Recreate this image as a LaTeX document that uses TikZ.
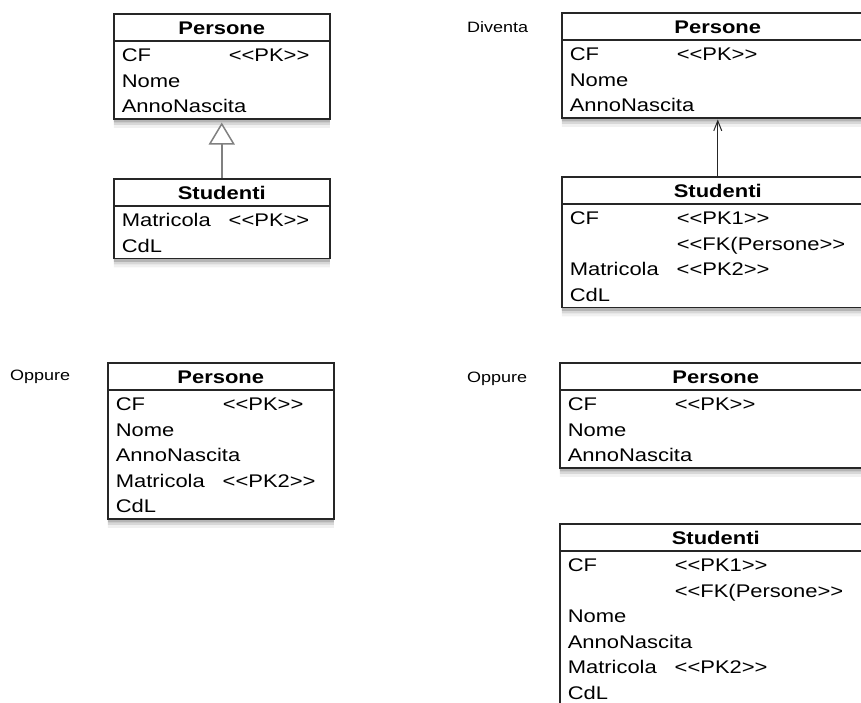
\documentclass[tikz,border=0pt]{standalone}
\usepackage{fontspec}
\setmainfont{Liberation Sans}[FakeStretch=1.2,Ligatures=TeXOff]
\usetikzlibrary{shapes.multipart}
\usetikzlibrary{shadows}
\usetikzlibrary{arrows.meta}

\newcommand\rowstrut{\rule[-5.5pt]{0pt}{25.5pt}}
\newcommand\ctitle[1]{\makebox[\hsize]{\bfseries #1\rowstrut}}
\newcommand\row[1]{#1\rowstrut}
\newcommand\attr[2]{\makebox[107pt][l]{#1}#2\rowstrut}

\begin{document}
\begin{tikzpicture}
[x=1pt,y=-1pt,%
  font=\fontsize{18.3}{25.5}\selectfont,%
  cls/.style={rectangle split,rectangle split parts=2,draw=black!85,%
    line width=1.5pt,fill=white,anchor=north west,inner xsep=8pt,inner ysep=0pt,%
    drop shadow={shadow xshift=0pt,shadow yshift=-9pt,opacity=.12},%
    drop shadow={shadow xshift=0pt,shadow yshift=-6pt,opacity=.22},%
    drop shadow={shadow xshift=0pt,shadow yshift=-3.5pt,opacity=.4}},%
  note/.style={anchor=west,inner sep=0pt,font=\fontsize{15}{18}\selectfont}]
\useasboundingbox (0,0) rectangle (861,702);
\clip (0,0) rectangle (861,702);

% in alto a sinistra
\node[cls,text width=200pt] (pers1) at (113,13)
  {\ctitle{Persone}\nodepart{two}\attr{CF}{<<PK>>}\\\row{Nome}\\\row{AnnoNascita}};
\node[cls,text width=200pt] (stud1) at (113,178)
  {\ctitle{Studenti}\nodepart{two}\attr{Matricola}{<<PK>>}\\\row{CdL}};
\draw[black!50,line width=1.5pt,shorten >=3pt,%
  -{Triangle[open,length=22pt,width=26pt,fill=white]}] (stud1.north) -- (pers1.south);

% in alto a destra
\node[note] (diventa) at (467,27) {Diventa};
\node[cls,text width=296pt] (pers2) at (561,12)
  {\ctitle{Persone}\nodepart{two}\attr{CF}{<<PK>>}\\\row{Nome}\\\row{AnnoNascita}};
\node[cls,text width=296pt] (stud2) at (561,176)
  {\ctitle{Studenti}\nodepart{two}\attr{CF}{<<PK1>>}\\\attr{}{<<FK(Persone>>}\\%
   \attr{Matricola}{<<PK2>>}\\\row{CdL}};
\draw[black!85,line width=1pt,shorten >=1pt,%
  -{Straight Barb[length=10pt,width=8pt]}] (stud2.north) -- (pers2.south);

% in basso a sinistra
\node[note] (oppure1) at (10,377) {Oppure};
\node[cls,text width=210pt] (pers3) at (107,362)
  {\ctitle{Persone}\nodepart{two}\attr{CF}{<<PK>>}\\\row{Nome}\\\row{AnnoNascita}\\%
   \attr{Matricola}{<<PK2>>}\\\row{CdL}};

% in basso a destra
\node[note] (oppure2) at (467,379) {Oppure};
\node[cls,text width=296pt] (pers4) at (559,362)
  {\ctitle{Persone}\nodepart{two}\attr{CF}{<<PK>>}\\\row{Nome}\\\row{AnnoNascita}};
\node[cls,text width=296pt] (stud4) at (559,523)
  {\ctitle{Studenti}\nodepart{two}\attr{CF}{<<PK1>>}\\\attr{}{<<FK(Persone>>}\\%
   \row{Nome}\\\row{AnnoNascita}\\\attr{Matricola}{<<PK2>>}\\\row{CdL}};
\end{tikzpicture}
\end{document}
